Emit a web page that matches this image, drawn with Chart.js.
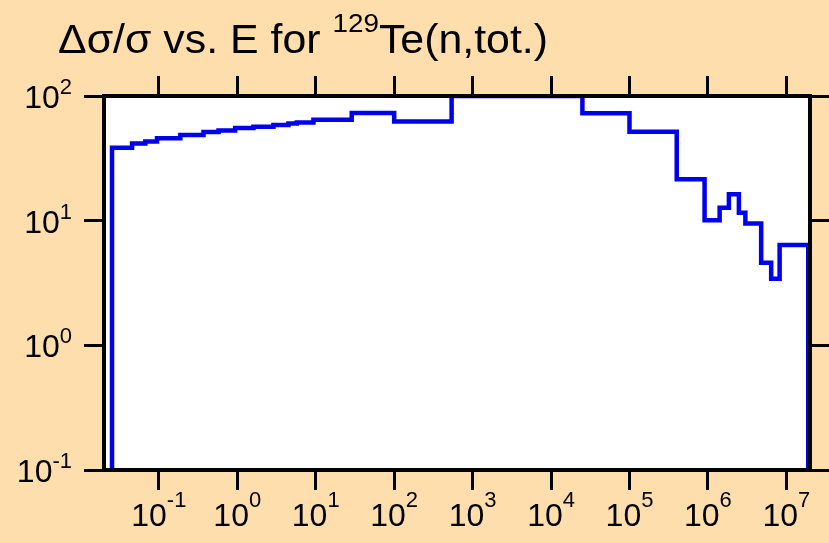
<!DOCTYPE html>
<html>
<head>
<meta charset="utf-8">
<script src="https://cdn.jsdelivr.net/npm/chart.js@4.4.1/dist/chart.umd.min.js"></script>
<style>
  html, body { margin: 0; padding: 0; background: #ffdead; }
  canvas { display: block; }
</style>
</head>
<body>
<canvas id="chart" width="829" height="543"></canvas>
<script>
// ==============================
// DATA
// ==============================

// bin edges in eV (energy groups)
const binEdges = [0.0253, 0.0456, 0.0673, 0.0948, 0.188, 0.371, 0.577, 0.94, 1.61, 2.89,
    4.49, 5.74, 9.35, 28.8, 100, 540, 25100, 1e5, 4e5, 9.06e5,
    1.41e6, 1.85e6, 2.48e6, 3.0e6, 4.77e6, 6.4e6, 8.2e6, 1.9e7];

// relative uncertainty (%) for each bin
const binValues = [38.4, 41.6, 43.2, 45.9, 48.6, 51.4, 52.9, 55.3, 56.6, 58.4,
    60.2, 61.3, 64.4, 72.9, 62.5, 100, 72.6, 51.6, 21.5, 10.1,
    12.7, 16.3, 11.6, 9.5, 4.6, 3.42, 6.37];

const xTickExps = [-1, 0, 1, 2, 3, 4, 5, 6, 7];
const yTickExps = [-1, 0, 1, 2];

const xRange = [0.02, 2e7];
const yRange = [0.1, 100];

const titleMain = 'Δσ/σ vs. E for ';
const titleSup = '129';
const titleEnd = 'Te(n,tot.)';

// ==============================
// BUILD STEP POINTS
// ==============================

function buildSteps() {
    const pts = [{ x: binEdges[0], y: yRange[0] }];
    binValues.forEach((v, i) => pts.push({ x: binEdges[i], y: v }));
    const last = binEdges[binEdges.length - 1];
    pts.push({ x: last, y: binValues[binValues.length - 1] });
    pts.push({ x: last, y: yRange[0] });
    return pts;
}

const FONT = '"Liberation Sans", Arial, Helvetica, sans-serif';

// power-of-ten label: "10" + raised exponent
function drawPow(ctx, exp, x, y, align, supDy) {
    const base = '10', sup = String(exp);
    ctx.font = '32px ' + FONT;
    const bw = ctx.measureText(base).width;
    ctx.font = '22px ' + FONT;
    const sw = ctx.measureText(sup).width;
    const total = bw + sw;
    let left = x;
    if (align === 'center') left = x - total / 2;
    if (align === 'right') left = x - total;
    ctx.textAlign = 'left';
    ctx.textBaseline = 'alphabetic';
    ctx.font = '32px ' + FONT;
    ctx.fillText(base, left, y);
    ctx.font = '22px ' + FONT;
    ctx.fillText(sup, left + bw, y - supDy);
}

// title in one run, stretched a little to span the same width as the original
function drawTitle(ctx) {
    const x0 = 58, x1 = 548, ty = 53;
    ctx.font = '40px ' + FONT;
    const w1 = ctx.measureText(titleMain).width;
    const w3 = ctx.measureText(titleEnd).width;
    ctx.font = '26px ' + FONT;
    const w2 = ctx.measureText(titleSup).width;
    const sx = (x1 - x0) / (w1 + w2 + w3);

    ctx.save();
    ctx.translate(x0, ty);
    ctx.scale(sx, 1);
    ctx.textAlign = 'left';
    ctx.textBaseline = 'alphabetic';
    ctx.font = '40px ' + FONT;
    ctx.fillText(titleMain, 0, 0);
    ctx.font = '26px ' + FONT;
    ctx.fillText(titleSup, w1, -21);
    ctx.font = '40px ' + FONT;
    ctx.fillText(titleEnd, w1 + w2, 0);
    ctx.restore();
}

const decorPlugin = {
    id: 'decor',
    beforeDraw(chart) {
        const { ctx, chartArea: a } = chart;
        ctx.save();
        ctx.fillStyle = '#ffdead';
        ctx.fillRect(0, 0, chart.width, chart.height);
        ctx.fillStyle = '#ffffff';
        ctx.fillRect(a.left, a.top, a.right - a.left, a.bottom - a.top);
        ctx.restore();
    },
    afterDraw(chart) {
        const { ctx } = chart;
        const xs = chart.scales.x, ys = chart.scales.y;
        ctx.save();
        ctx.fillStyle = '#000000';

        xTickExps.forEach(e => {
            drawPow(ctx, e, xs.getPixelForValue(Math.pow(10, e)), 526, 'center', 19);
        });
        yTickExps.forEach(e => {
            drawPow(ctx, e, 72, ys.getPixelForValue(Math.pow(10, e)) + 12, 'right', 14);
        });

        drawTitle(ctx);
        ctx.restore();
    }
};

function axisOpts(position, decades, fitSize) {
    const horizontal = position === 'top' || position === 'bottom';
    const range = horizontal ? xRange : yRange;
    return {
        type: 'logarithmic',
        position: position,
        min: range[0],
        max: range[1],
        bounds: 'data',
        afterBuildTicks: scale => {
            scale.ticks = decades.map(e => ({ value: Math.pow(10, e), major: true }));
        },
        afterFit: scale => {
            if (horizontal) scale.height = fitSize;
            else scale.width = fitSize;
        },
        grid: {
            drawOnChartArea: false,
            drawTicks: true,
            tickLength: 20,
            color: '#000000',
            lineWidth: 3
        },
        border: { display: true, color: '#000000', width: 4, z: 1 },
        ticks: { display: false, autoSkip: false }
    };
}

new Chart(document.getElementById('chart'), {
    type: 'line',
    data: {
        datasets: [{
            data: buildSteps(),
            stepped: 'before',
            borderColor: '#0000ee',
            borderWidth: 4.5,
            pointRadius: 0,
            fill: false,
            tension: 0
        }]
    },
    plugins: [decorPlugin],
    options: {
        responsive: false,
        animation: false,
        layout: { padding: 0 },
        plugins: {
            legend: { display: false },
            title: { display: false },
            tooltip: { enabled: false }
        },
        scales: {
            x: axisOpts('bottom', xTickExps, 73),
            x2: axisOpts('top', xTickExps, 96),
            y: axisOpts('left', yTickExps, 104),
            y2: axisOpts('right', yTickExps, 19)
        }
    }
});
</script>
</body>
</html>
